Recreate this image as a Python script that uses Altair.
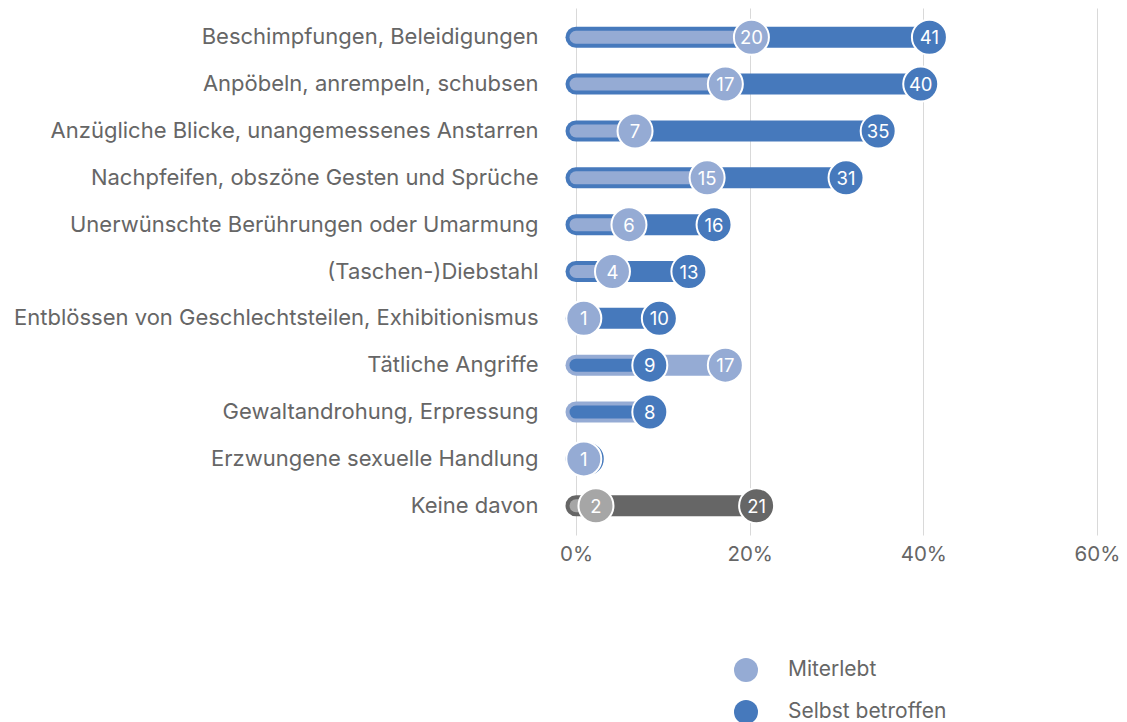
import altair as alt
import pandas as pd

kategorien = [
    "Beschimpfungen, Beleidigungen",
    "Anpöbeln, anrempeln, schubsen",
    "Anzügliche Blicke, unangemessenes Anstarren",
    "Nachpfeifen, obszöne Gesten und Sprüche",
    "Unerwünschte Berührungen oder Umarmung",
    "(Taschen-)Diebstahl",
    "Entblössen von Geschlechtsteilen, Exhibitionismus",
    "Tätliche Angriffe",
    "Gewaltandrohung, Erpressung",
    "Erzwungene sexuelle Handlung",
    "Keine davon",
]
miterlebt = [20.2, 17.2, 6.8, 15.1, 6.1, 4.2, 0.9, 17.2, 8.6, 0.9, 2.3]
selbst = [40.7, 39.7, 34.8, 31.1, 15.9, 13.0, 9.6, 8.5, 8.5, 1.3, 20.8]
# labels hidden behind another circle in the reference are left empty
miterlebt_labels = ["20", "17", "7", "15", "6", "4", "1", "17", "", "1", "2"]
selbst_labels = ["41", "40", "35", "31", "16", "13", "10", "9", "8", "", "21"]
serien = ["Miterlebt", "Selbst betroffen"]
farb_schluessel = ["Miterlebt", "Selbst betroffen", "Miterlebt (keine)", "Selbst betroffen (keine)"]
farben = ["#95ABD4", "#4679BC", "#A6A6A6", "#666666"]
x_ticks = [0, 20, 40, 60]

rows = []
for i, k in enumerate(kategorien):
    m, s = miterlebt[i], selbst[i]
    suffix = " (keine)" if k == "Keine davon" else ""
    m_role = "front" if m <= s else "behind"
    s_role = "behind" if m_role == "front" else "front"
    rows.append(dict(kat=k, serie=serien[0] + suffix, value=m, label=miterlebt_labels[i], role=m_role))
    rows.append(dict(kat=k, serie=serien[1] + suffix, value=s, label=selbst_labels[i], role=s_role))
df = pd.DataFrame(rows)

FONT = "Inter"
TXT = "#666666"
xscale = alt.Scale(domain=[0, 60], nice=False, zero=True)
yenc = alt.Y(
    "kat:N",
    sort=kategorien,
    scale=alt.Scale(paddingInner=0, paddingOuter=0.125),
    axis=alt.Axis(title=None, domain=False, ticks=False, labelPadding=38,
                  labelFontSize=22, labelColor=TXT, labelFont=FONT, labelLimit=600),
)
xaxis = alt.Axis(title=None, values=x_ticks, labelExpr="datum.value + '%'", domain=False, ticks=False,
                 grid=True, gridColor="#D9D9D9", gridWidth=1, labelPadding=9, labelFontSize=20.5,
                 labelColor=TXT, labelFont=FONT, labelFlush=False)
cscale = alt.Scale(domain=farb_schluessel, range=farben)

legend = alt.Legend(title=None, values=serien, orient="none", legendX=158, legendY=650,
                    direction="vertical", symbolType="circle", symbolSize=576, symbolStrokeWidth=0,
                    symbolOpacity=1, labelFontSize=21, labelColor=TXT, labelFont=FONT,
                    labelOffset=30, rowPadding=18, padding=0)


def col():
    return alt.Color("serie:N", scale=cscale, legend=legend)


base = alt.Chart(df)

behind_rule = base.transform_filter("datum.role == 'behind'").mark_rule(strokeCap="round", strokeWidth=21).encode(
    x=alt.X("value:Q", scale=xscale, axis=xaxis), x2=alt.datum(0), y=yenc, color=col())
front_rule = base.transform_filter("datum.role == 'front'").mark_rule(strokeCap="round", strokeWidth=13).encode(
    x=alt.X("value:Q", scale=xscale, axis=xaxis), x2=alt.datum(0), y=yenc, color=col())


def circles(role):
    return base.transform_filter(f"datum.role == '{role}'").mark_circle(
        size=1225, opacity=1, stroke="white", strokeWidth=2).encode(
        x=alt.X("value:Q", scale=xscale, axis=xaxis), y=yenc, color=col())


def texts(role):
    return base.transform_filter(f"datum.role == '{role}'").mark_text(
        color="white", fontSize=18.5, font=FONT, align="center", baseline="middle", dy=1).encode(
        x=alt.X("value:Q", scale=xscale, axis=xaxis), y=yenc, text="label:N")


chart = alt.layer(
    behind_rule, front_rule,
    circles("behind"), texts("behind"),
    circles("front"), texts("front"),
).properties(
    width=521, height=527,
    autosize=alt.AutoSizeParams(type="none"),
    padding={"left": 568, "top": 0, "right": 22, "bottom": 187},
).configure_view(stroke=None)

chart.save("out.html", embed_options={"renderer": "svg", "actions": False})
